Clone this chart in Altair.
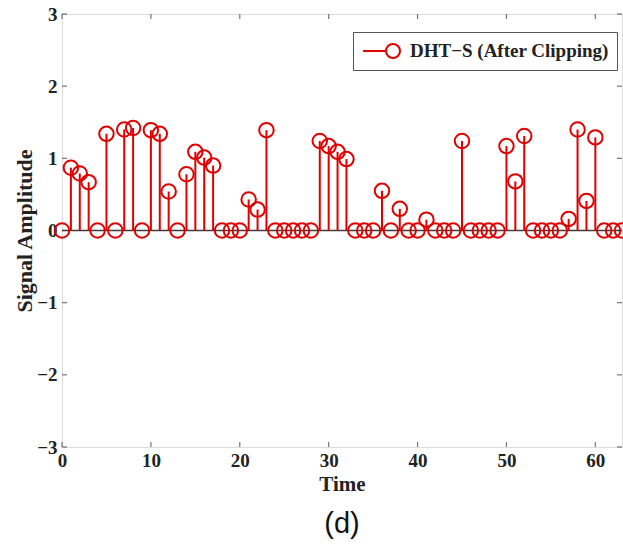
import altair as alt
import pandas as pd

# Stem samples of the clipped DHT-S signal
time = list(range(64))
amplitude = [
    0.00, 0.87, 0.79, 0.67, 0.00, 1.34, 0.00, 1.40, 1.42, 0.00,
    1.39, 1.34, 0.54, 0.00, 0.78, 1.09, 1.01, 0.90, 0.00, 0.00,
    0.00, 0.43, 0.29, 1.39, 0.00, 0.00, 0.00, 0.00, 0.00, 1.24,
    1.17, 1.09, 0.99, 0.00, 0.00, 0.00, 0.55, 0.00, 0.30, 0.00,
    0.00, 0.15, 0.00, 0.00, 0.00, 1.24, 0.00, 0.00, 0.00, 0.00,
    1.17, 0.68, 1.31, 0.00, 0.00, 0.00, 0.00, 0.16, 1.40, 0.41,
    1.29, 0.00, 0.00, 0.00,
]
series_name = "DHT\u2212S (After Clipping)"

x_ticks = [0, 10, 20, 30, 40, 50, 60]
y_ticks = [-3, -2, -1, 0, 1, 2, 3]
x_domain = [0, 63]
y_domain = [-3, 3]

RED = "#e00000"
FRAME = "#3c3c3c"
SERIF = "Liberation Serif"

df = pd.DataFrame({"Time": time, "Amplitude": amplitude, "series": series_name})
xt = pd.DataFrame({"t": x_ticks})
yt = pd.DataFrame({"v": y_ticks})

xs = alt.Scale(domain=x_domain, nice=False, zero=False)
ys = alt.Scale(domain=y_domain, nice=False, zero=False)

x_axis = alt.Axis(values=x_ticks, format="d", ticks=False, domain=False, grid=False,
                  labelFont=SERIF, labelFontWeight="bold", labelFontSize=19,
                  labelColor="#222", labelPadding=4, labelFlush=False,
                  title="Time", titleFont=SERIF, titleFontWeight="bold",
                  titleFontSize=21, titleColor="#222", titlePadding=3)
y_axis = alt.Axis(values=y_ticks, format="d", ticks=False, domain=False, grid=False,
                  labelFont=SERIF, labelFontWeight="bold", labelFontSize=19,
                  labelColor="#222", labelPadding=5, labelFlush=False,
                  title="Signal Amplitude", titleFont=SERIF, titleFontWeight="bold",
                  titleFontSize=22, titleColor="#222", titlePadding=0)

base = alt.Chart(df)

# zero baseline
baseline = alt.Chart(pd.DataFrame({"y": [0]})).mark_rule(
    color=FRAME, strokeWidth=1.5
).encode(
    y=alt.Y("y:Q", scale=ys, axis=y_axis),
)

stems = base.mark_rule(color=RED, strokeWidth=2).encode(
    x=alt.X("Time:Q", scale=xs, axis=x_axis),
    y=alt.Y("Amplitude:Q", scale=ys),
    y2=alt.datum(0),
)

# legend symbol: short line leading into an open circle
legend_symbol = "M-0.9,0L1.4,0M2.8,0A0.7,0.7,0,1,1,1.4,0A0.7,0.7,0,1,1,2.8,0"

markers = base.mark_point(shape="circle", filled=False, size=210, strokeWidth=2, opacity=1).encode(
    x=alt.X("Time:Q", scale=xs),
    y=alt.Y("Amplitude:Q", scale=ys),
    color=alt.Color(
        "series:N",
        scale=alt.Scale(range=[RED]),
        legend=alt.Legend(
            title=None, orient="none", legendX=291, legendY=18,
            symbolType=legend_symbol, symbolSize=400, symbolStrokeWidth=2,
            symbolFillColor="transparent", symbolStrokeColor=RED,
            labelFont=SERIF, labelFontWeight="bold", labelFontSize=19,
            labelColor="#222", labelOffset=27, labelLimit=400,
            padding=8, strokeColor="#555", fillColor="white",
        ),
    ),
)

# inward tick marks on all four sides of the box
tick_bottom = alt.Chart(xt).mark_tick(orient="vertical", size=5, yOffset=-2.5, color=FRAME, thickness=1.2).encode(
    x=alt.X("t:Q", scale=xs), y=alt.datum(-3))
tick_top = alt.Chart(xt).mark_tick(orient="vertical", size=5, yOffset=2.5, color=FRAME, thickness=1.2).encode(
    x=alt.X("t:Q", scale=xs), y=alt.datum(3))
tick_left = alt.Chart(yt).mark_tick(orient="horizontal", size=5, xOffset=2.5, color=FRAME, thickness=1.2).encode(
    y=alt.Y("v:Q", scale=ys), x=alt.datum(0))
tick_right = alt.Chart(yt).mark_tick(orient="horizontal", size=5, xOffset=-2.5, color=FRAME, thickness=1.2).encode(
    y=alt.Y("v:Q", scale=ys), x=alt.datum(63))

chart = alt.layer(
    baseline, stems, markers, tick_bottom, tick_top, tick_left, tick_right
).properties(
    width=560,
    height=433,
    title=alt.TitleParams("(d)", orient="bottom", font="Liberation Sans", fontSize=29,
                          fontWeight="normal", color="#111", offset=16),
    autosize=alt.AutoSizeParams(type="none"),
    padding={"left": 62, "top": 14, "right": 1, "bottom": 97},
).configure_view(
    stroke=FRAME, strokeWidth=1.5
).configure(background="white")

chart.save("out.html", embed_options={"renderer": "svg", "actions": False})
